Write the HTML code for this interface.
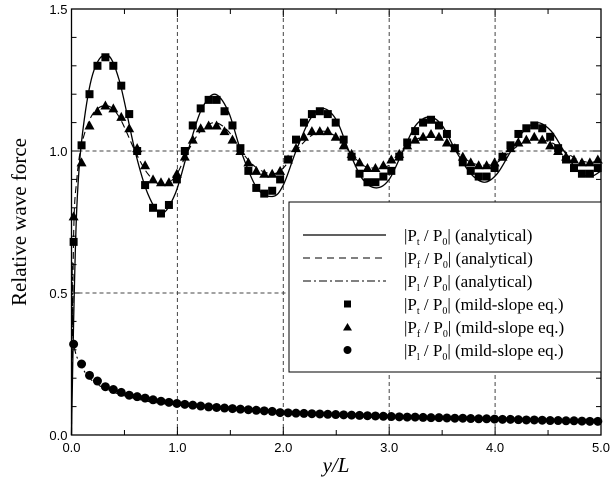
<!DOCTYPE html>
<html><head><meta charset="utf-8"><style>
body{margin:0;background:#fff;}
svg text{font-family:"Liberation Sans",sans-serif;}
.serif{font-family:"Liberation Serif",serif !important;}
</style></head><body>
<svg id="chart" width="616" height="492" xmlns="http://www.w3.org/2000/svg">
<g id="grid"></g>
<g id="curves"></g>
<g id="marks"></g>
<g id="axes"></g>
<g id="legend"></g>
<text class="serif" transform="translate(26,222) rotate(-90)" text-anchor="middle" font-size="21">Relative wave force</text>
<text class="serif" x="336" y="472" text-anchor="middle" font-size="21" font-style="italic">y/L</text>
</svg>
<script>
const xTicks=[0,1,2,3,4,5];
const xTickLabels=["0.0","1.0","2.0","3.0","4.0","5.0"];
const yTicks=[0,0.5,1.0,1.5];
const yTickLabels=["0.0","0.5","1.0","1.5"];
const curveX=[0,0.02,0.05,0.1,0.2,0.33,0.45,0.6,0.72,0.85,0.98,1.1,1.22,1.35,1.48,1.6,1.75,1.9,2.0,2.12,2.25,2.37,2.5,2.62,2.75,2.88,3.0,3.13,3.25,3.38,3.5,3.63,3.77,3.9,4.02,4.15,4.27,4.4,4.53,4.65,4.78,4.9,5.0];
const ptAnalytical=[0,0.4,0.8,1.05,1.27,1.34,1.25,1.0,0.85,0.78,0.85,1.0,1.14,1.2,1.14,1.0,0.87,0.84,0.88,1.0,1.11,1.15,1.11,1.0,0.9,0.87,0.9,1.0,1.09,1.12,1.09,1.0,0.92,0.89,0.92,1.0,1.07,1.1,1.07,1.0,0.93,0.91,0.93];
const pfAnalytical=[0,0.7,0.9,1.03,1.13,1.16,1.12,1.0,0.92,0.88,0.91,1.0,1.07,1.1,1.07,1.0,0.94,0.92,0.94,1.0,1.05,1.07,1.05,1.0,0.95,0.94,0.95,1.0,1.04,1.05,1.04,1.0,0.96,0.95,0.96,1.0,1.03,1.04,1.03,1.0,0.97,0.96,0.97];
const plX=[0,0.005,0.02,0.1,0.2,0.4,0.7,1.0,1.5,2.0,3.0,4.0,5.0];
const plAnalytical=[0,0.6,0.33,0.24,0.19,0.15,0.12,0.105,0.09,0.078,0.065,0.055,0.048];
const msStart=0.02, msStep=0.075;
const ptMild=[0.68,1.02,1.20,1.30,1.33,1.30,1.23,1.13,1.00,0.88,0.80,0.78,0.81,0.90,1.00,1.09,1.15,1.18,1.18,1.14,1.09,1.01,0.93,0.87,0.85,0.86,0.90,0.97,1.04,1.10,1.13,1.14,1.13,1.10,1.04,0.98,0.92,0.89,0.89,0.91,0.93,0.98,1.03,1.07,1.10,1.11,1.09,1.06,1.01,0.96,0.93,0.91,0.91,0.94,0.98,1.02,1.06,1.08,1.09,1.08,1.05,1.01,0.97,0.94,0.92,0.92,0.94];
const pfMild=[0.77,0.96,1.09,1.14,1.16,1.15,1.12,1.08,1.01,0.95,0.90,0.89,0.89,0.92,0.98,1.04,1.08,1.09,1.09,1.07,1.04,1.00,0.96,0.93,0.92,0.92,0.93,0.97,1.01,1.05,1.07,1.07,1.07,1.05,1.02,0.99,0.96,0.94,0.94,0.95,0.97,0.99,1.02,1.04,1.05,1.06,1.05,1.03,1.01,0.98,0.96,0.95,0.95,0.96,0.98,1.01,1.03,1.04,1.05,1.04,1.02,1.00,0.98,0.97,0.96,0.96,0.97];
const plMild=[0.32,0.25,0.21,0.19,0.17,0.16,0.15,0.14,0.135,0.13,0.124,0.119,0.115,0.111,0.108,0.105,0.102,0.099,0.097,0.095,0.093,0.091,0.089,0.087,0.085,0.083,0.079,0.078,0.077,0.076,0.075,0.074,0.073,0.072,0.071,0.070,0.069,0.068,0.067,0.066,0.065,0.064,0.063,0.063,0.062,0.061,0.061,0.060,0.059,0.059,0.058,0.057,0.057,0.056,0.055,0.055,0.054,0.053,0.053,0.052,0.051,0.051,0.050,0.050,0.049,0.048,0.048];

const NS="http://www.w3.org/2000/svg";
const X0=71.5,X1=601,Y0=435,Y1=9;
const sx=v=>X0+(X1-X0)*v/5;
const sy=v=>Y0-(Y0-Y1)*v/1.5;
function mk(tag,attrs,parent){const e=document.createElementNS(NS,tag);for(const k in attrs)e.setAttribute(k,attrs[k]);parent.appendChild(e);return e;}
const grid=document.getElementById('grid'),axes=document.getElementById('axes'),curves=document.getElementById('curves'),marks=document.getElementById('marks'),legend=document.getElementById('legend');
[1,2,3,4].forEach(v=>{const l=mk('line',{x1:sx(v),x2:sx(v),y1:Y0,y2:Y1,stroke:'#444','stroke-width':1,'stroke-dasharray':'4,3'},grid);

});
[0.5,1.0].forEach(v=>{const l=mk('line',{x1:X0,x2:X1,y1:sy(v),y2:sy(v),stroke:'#444','stroke-width':1,'stroke-dasharray':'4,3'},grid);

});
function smooth(xs,ys){let p=[];for(let i=0;i<xs.length;i++)p.push([sx(xs[i]),sy(ys[i])]);
let d='M'+p[0][0]+','+p[0][1];for(let i=0;i<p.length-1;i++){const a=p[Math.max(0,i-1)],b=p[i],c=p[i+1],e=p[Math.min(p.length-1,i+2)];
d+=' C'+(b[0]+(c[0]-a[0])/6)+','+(b[1]+(c[1]-a[1])/6)+' '+(c[0]-(e[0]-b[0])/6)+','+(c[1]-(e[1]-b[1])/6)+' '+c[0]+','+c[1];}return d;}
let c1=mk('path',{d:smooth(curveX,ptAnalytical),fill:'none',stroke:'#000','stroke-width':1.3},curves);


let c2=mk('path',{d:smooth(curveX,pfAnalytical),fill:'none',stroke:'#000','stroke-width':1.1,'stroke-dasharray':'7,4'},curves);


let c3=mk('path',{d:smooth(plX,plAnalytical),fill:'none',stroke:'#000','stroke-width':1.1,'stroke-dasharray':'8,3,2,3'},curves);


function sq(x,y,p){return mk('rect',{x:x-4,y:y-4,width:8,height:8,fill:'#000'},p);}
function tri(x,y,p){return mk('polygon',{points:`${x},${y-5} ${x-5},${y+4} ${x+5},${y+4}`,fill:'#000'},p);}
function cir(x,y,p){return mk('circle',{cx:x,cy:y,r:4.5,fill:'#000'},p);}
ptMild.forEach((v,i)=>{const e=sq(sx(msStart+i*msStep),sy(v),marks);

});
pfMild.forEach((v,i)=>{const e=tri(sx(msStart+i*msStep),sy(v),marks);

});
plMild.forEach((v,i)=>{const e=cir(sx(msStart+i*msStep),sy(v),marks);

});
let fr=mk('rect',{x:X0,y:Y1,width:X1-X0,height:Y0-Y1,fill:'none',stroke:'#000','stroke-width':1.3},axes);


for(let v=0;v<=5.001;v+=0.5){mk('line',{x1:sx(v),x2:sx(v),y1:Y0,y2:Y0-(v%1===0?8:5),stroke:'#000'},axes);mk('line',{x1:sx(v),x2:sx(v),y1:Y1,y2:Y1+(v%1===0?8:5),stroke:'#000'},axes);}
for(let v=0;v<=1.501;v+=0.1){const big=Math.abs(v*2-Math.round(v*2))<1e-6;mk('line',{x1:X0,x2:X0+(big?8:5),y1:sy(v),y2:sy(v),stroke:'#000'},axes);mk('line',{x1:X1,x2:X1-(big?8:5),y1:sy(v),y2:sy(v),stroke:'#000'},axes);}
xTicks.forEach((v,i)=>{const t=mk('text',{x:sx(v),y:Y0+17,'text-anchor':'middle','font-size':13},axes);t.textContent=xTickLabels[i];

});
yTicks.forEach((v,i)=>{const t=mk('text',{x:X0-4,y:sy(v)+5,'text-anchor':'end','font-size':13},axes);t.textContent=yTickLabels[i];

});
let lb=mk('rect',{x:289,y:202,width:X1-289,height:170,fill:'#fff',stroke:'#000','stroke-width':1},legend);


const rows=[['t','(analytical)','solid'],['f','(analytical)','dash'],['l','(analytical)','dashdot'],['t','(mild-slope eq.)','sq'],['f','(mild-slope eq.)','tri'],['l','(mild-slope eq.)','cir']];
rows.forEach((r,i)=>{const y=235+i*23;const g=mk('g',{},legend);


if(r[2]==='solid')mk('line',{x1:303,x2:386,y1:y,y2:y,stroke:'#000','stroke-width':1.2},g);
if(r[2]==='dash')mk('line',{x1:303,x2:386,y1:y,y2:y,stroke:'#000','stroke-width':1.1,'stroke-dasharray':'7,5'},g);
if(r[2]==='dashdot')mk('line',{x1:303,x2:386,y1:y,y2:y,stroke:'#000','stroke-width':1.1,'stroke-dasharray':'8,3,2,3'},g);
if(r[2]==='sq')mk('rect',{x:344,y:y-3.5,width:7,height:7,fill:'#000'},g);
if(r[2]==='tri')mk('polygon',{points:`347.5,${y-4} 343,${y+3.5} 352,${y+3.5}`,fill:'#000'},g);
if(r[2]==='cir')mk('circle',{cx:347.5,cy:y,r:4,fill:'#000'},g);
const t=mk('text',{x:404,y:y+6,'font-size':17,class:'serif'},g);
t.innerHTML=`|P<tspan font-size="10" dy="4">${r[0]}</tspan><tspan dy="-4"> / P</tspan><tspan font-size="10" dy="4">0</tspan><tspan dy="-4">| ${r[1]}</tspan>`;});
</script>
</body></html>
